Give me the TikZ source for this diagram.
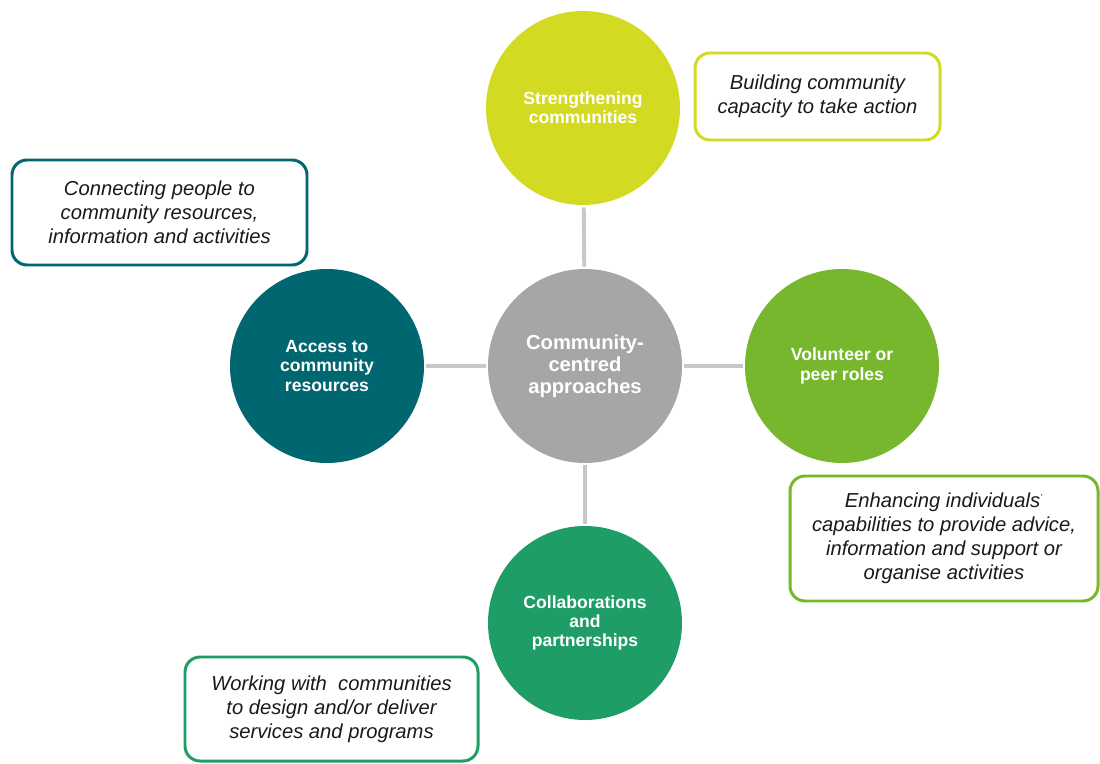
\documentclass[tikz,border=0pt]{standalone}
\usepackage{fontspec}
\setmainfont{Liberation Sans}
\usepackage{tikz}
\usetikzlibrary{positioning}
\definecolor{lime}   {HTML}{D3DA22}
\definecolor{leaf}   {HTML}{76B72E}
\definecolor{jade}   {HTML}{1F9D66}
\definecolor{teal}   {HTML}{006670}
\definecolor{stone}  {HTML}{A6A6A6}
\definecolor{link}   {HTML}{C8C8C8}
\definecolor{ink}    {HTML}{1A1A1A}

\begin{document}
\begin{tikzpicture}[
    hub/.style={circle, minimum size=3.88cm, inner sep=0pt, text=white,
      align=center, font=\bfseries\fontsize{10}{11}\selectfont},
    note/.style={draw, line width=1.7pt, rounded corners=0.3cm, fill=white,
      text=ink, align=center, font=\itshape\fontsize{11.5}{13.6}\selectfont,
      inner sep=0pt},
    spoke/.style={link, line width=2.2pt, shorten <=0.04cm, shorten >=0.04cm}
  ]
    \useasboundingbox (0, 0) rectangle (22, 15.26);

    \node[hub, fill=stone, font=\bfseries\fontsize{11.5}{12.6}\selectfont]
      (core) at (11.70, 7.94) {Community-\\centred\\approaches};
    \node[hub, fill=lime]  (strength) at (11.66, 13.10) {Strengthening\\communities};
    \node[hub, fill=leaf]  (volunteer) at (16.84, 7.94) {Volunteer or\\peer roles};
    \node[hub, fill=teal]  (access) at (6.54, 7.94) {Access to\\community\\resources};
    \node[hub, fill=jade]  (collab) at (11.70, 2.80) {Collaborations\\and\\partnerships};

    \draw[spoke] (strength) -- (core);
    \draw[spoke] (access) -- (core);
    \draw[spoke] (core) -- (volunteer);
    \draw[spoke] (core) -- (collab);

    \node[note, draw=lime, minimum width=4.9cm, minimum height=1.74cm]
      (buildnote) at (16.35, 13.33) {Building community\\capacity to take action};
    \node[note, draw=teal, minimum width=5.9cm, minimum height=2.1cm]
      (accessnote) at (3.19, 11.01) {Connecting people to\\community resources,\\information and activities};
    \node[note, draw=leaf, minimum width=6.16cm, minimum height=2.5cm]
      (peernote) at (18.88, 4.49) {Enhancing individuals\textsuperscript{\tiny '}\\capabilities to provide advice,\\information and support or\\organise activities};
    \node[note, draw=jade, minimum width=5.86cm, minimum height=2.08cm]
      (worknote) at (6.63, 1.08) {Working with~ communities\\to design and/or deliver\\services and programs};
  \end{tikzpicture}
\end{document}
